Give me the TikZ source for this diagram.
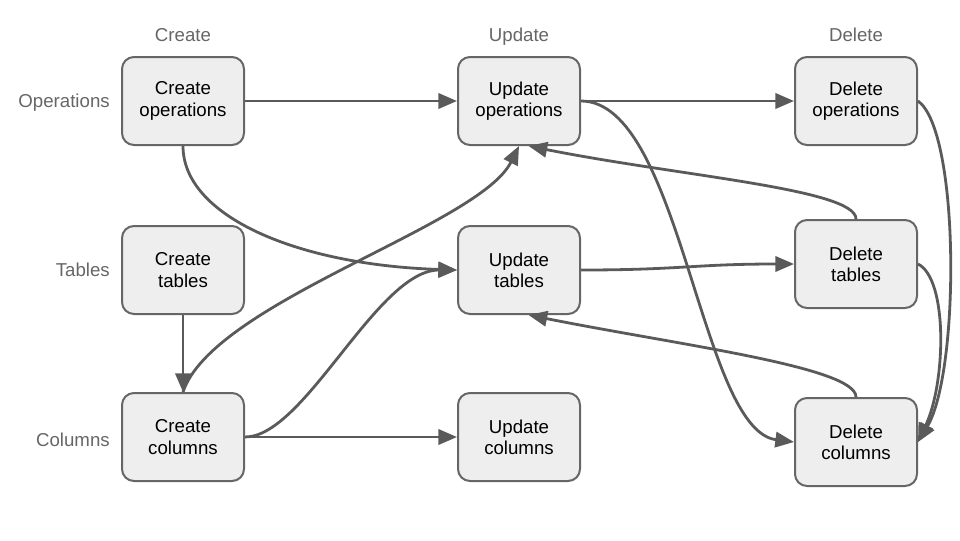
\documentclass[tikz,border=0pt]{standalone}
\usepackage{fontspec}
\setmainfont{Liberation Sans}
\usetikzlibrary{arrows.meta,positioning,calc}
\definecolor{Edge}{HTML}{5A5A5A}
\definecolor{Box}{HTML}{EEEEEE}
\definecolor{Rim}{HTML}{666666}
\definecolor{Tag}{HTML}{666666}

\begin{document}
\begin{tikzpicture}[x=0.75pt,y=-0.75pt,every node/.style={font=\fontsize{14}{16}\selectfont},
 stepbox/.style={draw=Rim,fill=Box,line width=1.5pt,rounded corners=9pt,minimum width=91.5pt,minimum height=66pt,align=center,inner sep=0pt},
 tag/.style={text=Tag,inner sep=0pt,text height=1.55ex,text depth=0.45ex},
 link/.style={draw=Edge,line width=2.1pt,-{Triangle[length=14pt,width=11.5pt]}}]
\useasboundingbox (0,0) rectangle (960,540);
\foreach \x/\t in {183/Create,519/Update,856/Delete} {
 \node[tag] (h\t) at (\x,38) {\t};
}
\foreach \y/\t in {104/Operations,273/Tables,443/Columns} {
 \node[tag,anchor=east] (r\t) at (110,\y) {\t};
}
\node[stepbox] (cop) at (183,101) {Create\\operations};
\node[stepbox] (uop) at (519,101) {Update\\operations};
\node[stepbox] (dop) at (856,101) {Delete\\operations};
\node[stepbox] (ctb) at (183,270) {Create\\tables};
\node[stepbox] (utb) at (519,270) {Update\\tables};
\node[stepbox] (dtb) at (856,264) {Delete\\tables};
\node[stepbox] (ccl) at (183,437) {Create\\columns};
\node[stepbox] (ucl) at (519,437) {Update\\columns};
\node[stepbox] (dcl) at (856,442) {Delete\\columns};
\draw[link] (cop) -- (uop);
\draw[link] (uop) -- (dop);
\draw[link] (cop.south) .. controls +(0,70) and +(-160,-5) .. (utb.west);
\draw[link] (ctb) -- (ccl);
\draw[link] (ccl.north) .. controls +(30,-90) and +(-40,80) .. (uop.south);
\draw[link] (ccl.east) .. controls +(60,0) and +(-80,0) .. (utb.west);
\draw[link] (ccl) -- (ucl);
\draw[link] (uop.east) .. controls +(100,0) and +(-94,-12) .. (dcl.west);
\draw[link] (utb.east) .. controls +(100,0) and +(-100,0) .. (dtb.west);
\draw[link] (dtb.north) .. controls +(0,-30) and +(150,30) .. (uop.-78);
\draw[link] (dcl.north) .. controls +(0,-30) and +(150,30) .. (utb.-78);
\draw[link] (dop.east) .. controls +(42,30) and +(42,-70) .. (dcl.east);
\draw[link] (dtb.east) .. controls +(30,15) and +(28,-60) .. (dcl.east);
\end{tikzpicture}
\end{document}
